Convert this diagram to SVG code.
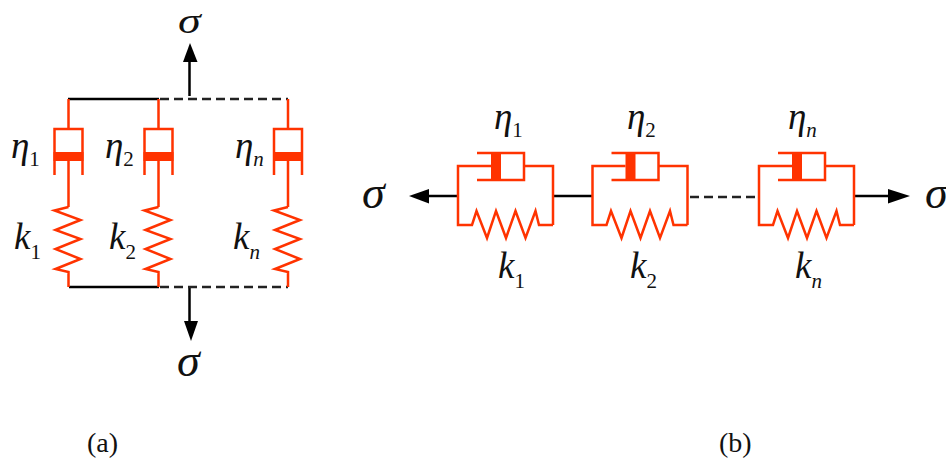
<svg xmlns="http://www.w3.org/2000/svg" width="946" height="459" viewBox="0 0 946 459">
<style>
.r{fill:none;stroke:#ff3300;stroke-width:2.500;stroke-linejoin:miter}
.rf{fill:#ff3300}
.b{fill:none;stroke:#000;stroke-width:2.500}
.d{fill:none;stroke:#222;stroke-width:2.500;stroke-dasharray:9 5}
.a{fill:#000}
text{font-family:"Liberation Serif","Times New Roman",serif;fill:#111}
.g{font-style:italic;font-size:46px}
.e{font-style:italic;font-size:37px}
.k{font-style:italic;font-size:37px}
.s{font-size:21px;font-style:normal}
.si{font-size:21px;font-style:italic}
.c{font-size:28px}
</style>
<defs>
<g id="vd"><path class="r" d="M0 0V30M-14 76V30H14V76M0 62V108"/><rect class="rf" x="-15" y="53" width="30" height="9"/>
<path class="r" d="M0 108L-14 111.500L12 121L-13 131L12 140L-13 150L12 160L-13 170L0 173V188"/></g>
<g id="mod"><path class="r" d="M95 59V0H66M33 0H0V59H14L18.500 45L29 72L38 45L48 72L57.500 45L67.500 72L77.500 45L81 59H95"/><path class="r" d="M33 -13H19M33 14H19M33 -13H66V14H33"/><rect class="rf" x="33" y="-14" width="10" height="29"/></g>
</defs>
<g id="connectors">
<path class="b" d="M68 99H159M69 287H159M189.500 96V60M189.500 288V322M429 196H458M553 196H592M854 196H889"/>
<path class="d" d="M160 99H288M160 287H288M690 197H759"/>
<polygon class="a" points="190,43 183,62 197.500,62"/>
<polygon class="a" points="191,341 184,321 198,321"/>
<polygon class="a" points="409,196 429,189 429,203.500"/>
<polygon class="a" points="910,196 888,189 888,203.500"/>
</g>
<g id="left-branch-1"><use href="#vd" x="68.500" y="99"/></g>
<g id="left-branch-2"><use href="#vd" x="158.500" y="99"/></g>
<g id="left-branch-n"><use href="#vd" x="288" y="99"/></g>
<g id="right-element-1"><use href="#mod" x="458" y="166"/></g>
<g id="right-element-2"><use href="#mod" x="592.500" y="166"/></g>
<g id="right-element-n"><use href="#mod" x="759" y="166"/></g>
<g id="labels">
<text x="178" y="33" style="font-style:italic;font-size:36px" transform="translate(178 0) scale(1.28 1) translate(-178 0)">σ</text>
<text class="g" x="177" y="376">σ</text>
<text class="g" x="362" y="208">σ</text>
<text class="g" x="925" y="208">σ</text>
<text class="e" x="11" y="158">η<tspan class="s" dy="8">1</tspan></text>
<text class="e" x="105" y="158">η<tspan class="s" dy="8">2</tspan></text>
<text class="e" x="235" y="158">η<tspan class="si" dy="8">n</tspan></text>
<text class="k" x="14" y="249">k<tspan class="s" dy="10">1</tspan></text>
<text class="k" x="109" y="249">k<tspan class="s" dy="10">2</tspan></text>
<text class="k" x="233" y="249">k<tspan class="si" dy="10">n</tspan></text>
<text class="e" x="494" y="129">η<tspan class="s" dy="8">1</tspan></text>
<text class="e" x="627" y="129">η<tspan class="s" dy="8">2</tspan></text>
<text class="e" x="788" y="129">η<tspan class="si" dy="8">n</tspan></text>
<text class="k" x="498" y="278">k<tspan class="s" dy="10">1</tspan></text>
<text class="k" x="630" y="278">k<tspan class="s" dy="10">2</tspan></text>
<text class="k" x="795" y="278">k<tspan class="si" dy="10">n</tspan></text>
<text class="c" x="87" y="452">(a)</text>
<text class="c" x="719" y="452">(b)</text>
</g>
</svg>
